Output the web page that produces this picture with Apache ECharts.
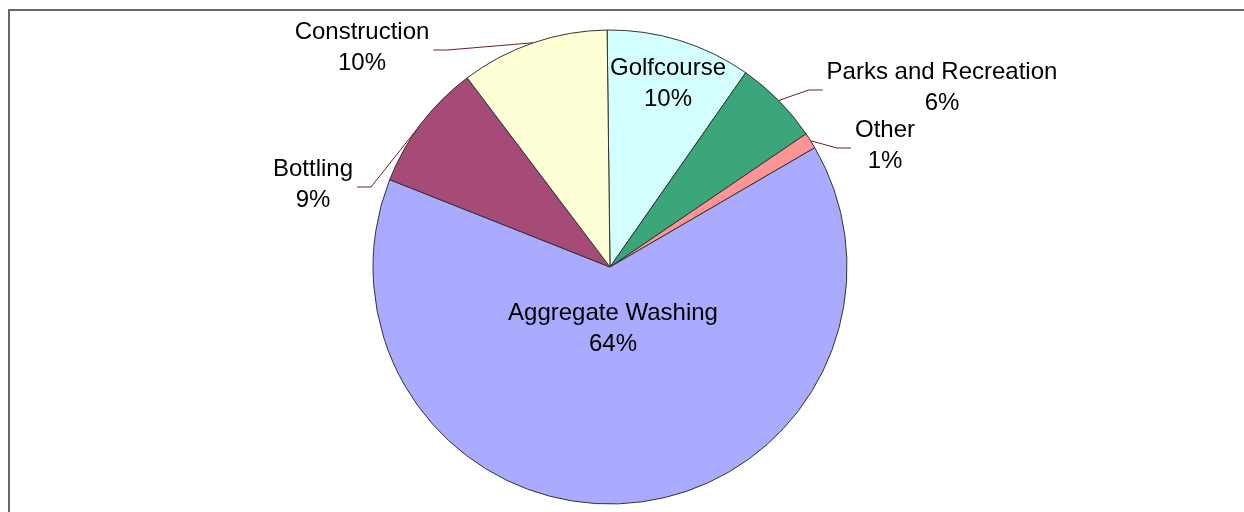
<!DOCTYPE html>
<html><head><meta charset="utf-8">
<script src="https://cdn.jsdelivr.net/npm/echarts@6/dist/echarts.min.js"></script>
<style>html,body{margin:0;padding:0;background:#fff}#c{width:1244px;height:512px}</style>
</head><body><div id="c"></div>
<script>
// Data (clockwise from 12 o'clock)
const categories = ['Golfcourse', 'Parks and Recreation', 'Other', 'Aggregate Washing', 'Bottling', 'Construction'];
const values = [9.9, 5.8, 1.1, 64.4, 8.7, 10.1];

// Styling / label placement (kept apart from the data)
const sliceColors = ['#d4ffff', '#3ba67a', '#ff9494', '#aaabff', '#a64b77', '#ffffd5'];
const insideLabel = [true, false, false, true, false, false];
const labelAnchors = [[668, 84], [942, 88], [885, 146], [613, 329], [313, 185], [362, 48]];

const chart = echarts.init(document.getElementById('c'), null, {renderer: 'canvas'});
const data = categories.map((name, i) => ({
  name: name,
  value: values[i],
  itemStyle: {color: sliceColors[i]},
  label: {position: insideLabel[i] ? 'inside' : 'outside'},
  labelLine: {show: !insideLabel[i]}
}));

chart.setOption({
  animation: false,
  backgroundColor: '#ffffff',
  graphic: [{
    type: 'rect', z: -10,
    shape: {x: 9, y: 10, width: 1400, height: 700},
    style: {fill: 'none', stroke: '#666666', lineWidth: 2}
  }],
  series: [{
    type: 'pie',
    center: [610, 267],
    radius: 237,
    startAngle: 90.7,
    clockwise: true,
    avoidLabelOverlap: false,
    emphasis: {disabled: true},
    itemStyle: {borderColor: '#333333', borderWidth: 1},
    label: {
      show: true,
      formatter: p => p.name + '\n' + Math.round(p.percent) + '%',
      fontFamily: 'Liberation Sans',
      fontSize: 24,
      lineHeight: 31,
      color: '#000000',
      align: 'center'
    },
    labelLine: {
      show: true, length: 10, length2: 10,
      lineStyle: {color: '#6e2020', width: 1}
    },
    labelLayout: function (p) {
      const a = labelAnchors[p.dataIndex];
      const res = {x: a[0], y: a[1], align: 'center', verticalAlign: 'middle'};
      if (!insideLabel[p.dataIndex] && p.labelLinePoints) {
        const start = p.labelLinePoints[0];
        const half = p.labelRect.width / 2;
        const leftSide = a[0] < start[0];
        const endX = leftSide ? a[0] + half + 4 : a[0] - half - 4;
        const endY = a[1] + 2;
        const elbowX = leftSide ? endX + 14 : endX - 14;
        res.labelLinePoints = [[start[0], start[1]], [elbowX, endY], [endX, endY]];
      }
      return res;
    },
    data: data
  }]
});
</script>
</body></html>
